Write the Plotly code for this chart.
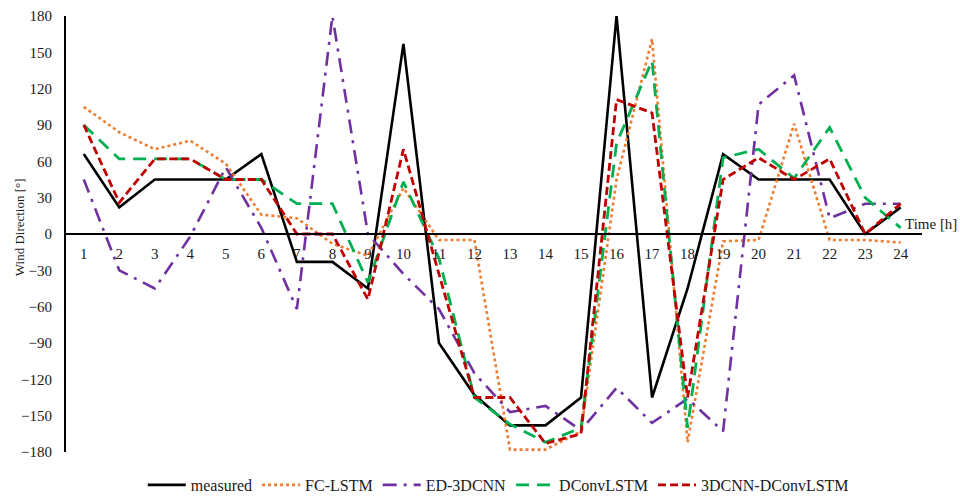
import plotly.graph_objects as go

hours = list(range(1, 25))
measured = [66, 22, 45, 45, 45, 66, -23, -23, -45, 157, -90, -133, -158, -158, -135, 180, -135, -45, 66, 45, 45, 45, 0, 22]
fc_lstm = [105, 84, 70, 77, 58, 16, 13, -8, -18, 38, -5, -5, -178, -178, -163, 45, 161, -172, -6, -5, 91, -5, -5, -7]
ed_3dcnn = [45, -30, -45, -2, 55, 5, -62, 180, 0, -33, -62, -115, -147, -142, -162, -127, -156, -136, -163, 107, 131, 13, 25, 25]
dconvlstm = [90, 62, 62, 62, 45, 45, 25, 25, -40, 43, -20, -135, -157, -172, -160, 75, 143, -160, 63, 70, 46, 88, 30, 5]
cnn_dconvlstm = [90, 26, 62, 62, 45, 45, 0, 0, -54, 70, -33, -135, -135, -173, -165, 111, 100, -135, 45, 63, 45, 62, 0, 25]
y_ticks = [-180, -150, -120, -90, -60, -30, 0, 30, 60, 90, 120, 150, 180]

series = [
    ("measured", measured, "#000000", "solid", 2.6),
    ("FC-LSTM", fc_lstm, "#ED7D31", "dot", 2.6),
    ("ED-3DCNN", ed_3dcnn, "#7030A0", "14px,7px,3px,7px", 2.6),
    ("DConvLSTM", dconvlstm, "#00B050", "13px,8px", 2.8),
    ("3DCNN-DConvLSTM", cnn_dconvlstm, "#C00000", "8px,4px", 2.8),
]

FONT = "Liberation Serif, Times New Roman, serif"
TXT = "#1a1a1a"

fig = go.Figure()
for name, vals, color, dash, w in series:
    fig.add_trace(go.Scatter(x=hours, y=vals, mode="lines", name=name,
                             line=dict(color=color, dash=dash, width=w)))

fig.update_layout(
    width=960, height=496,
    margin=dict(l=66, r=38, t=16, b=44, autoexpand=False),
    paper_bgcolor="white", plot_bgcolor="white",
    font=dict(family=FONT, size=15, color=TXT),
    showlegend=True,
    legend=dict(orientation="h", x=0.505, xanchor="center", y=-0.0757, yanchor="middle",
                font=dict(family=FONT, size=16, color=TXT),
                itemwidth=38, tracegroupgap=0, bgcolor="rgba(0,0,0,0)"),
    xaxis=dict(range=[0.5, 24.6], tickmode="array", tickvals=hours,
               ticktext=[str(h) for h in hours], showgrid=False, zeroline=False,
               showline=True, linecolor="#000000", linewidth=2,
               anchor="free", position=0.5, ticks="", ticklabelstandoff=6,
               tickfont=dict(family=FONT, size=15, color=TXT)),
    yaxis=dict(range=[-180, 180], tickmode="array", tickvals=y_ticks,
               showgrid=False, zeroline=False, showline=True, linecolor="#000000",
               linewidth=2, ticks="", ticklabelstandoff=9,
               tickfont=dict(family=FONT, size=15, color=TXT)),
    annotations=[
        dict(text="Wind Direction [°]", xref="paper", yref="paper", x=-0.054, y=0.515,
             xanchor="center", yanchor="middle", textangle=-90, showarrow=False,
             font=dict(family=FONT, size=13, color=TXT)),
        dict(text="Time [h]", xref="paper", yref="y", x=0.978, y=0,
             xanchor="left", yanchor="bottom", showarrow=False, yshift=0,
             font=dict(family=FONT, size=15, color=TXT)),
    ],
)

fig.write_html("out.html")
